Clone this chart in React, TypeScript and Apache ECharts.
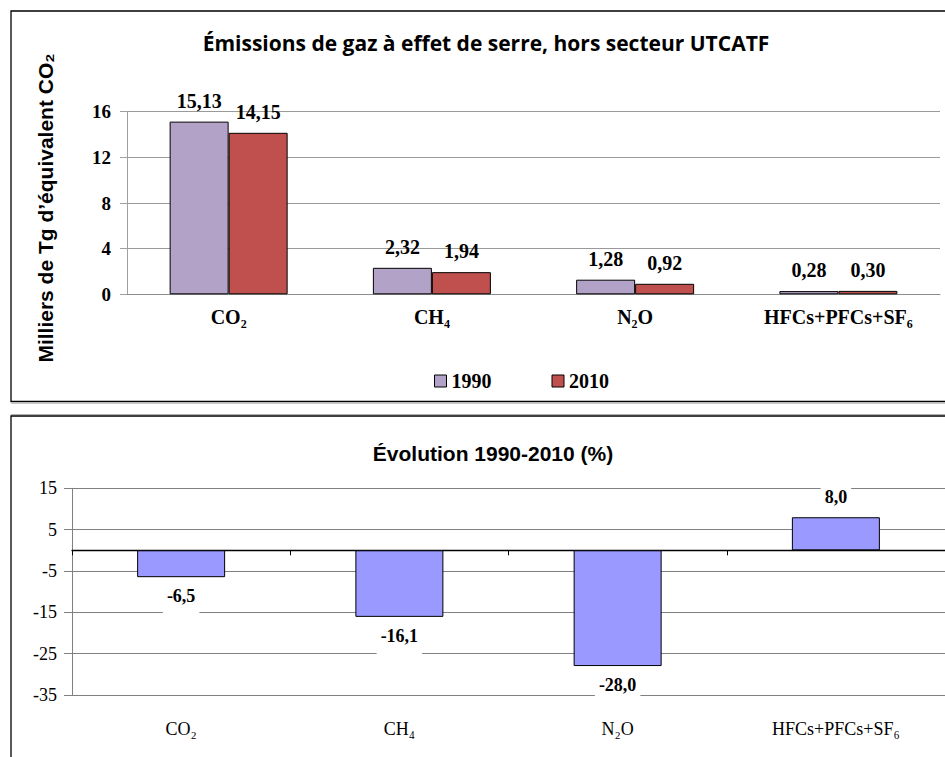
import React, { useEffect, useRef } from 'react';
import * as echarts from 'echarts';

// ---- Data ----
const categories = ['CO₂', 'CH₄', 'N₂O', 'HFCs+PFCs+SF₆'];
const years = ['1990', '2010'];
const emissions1990 = [15.13, 2.32, 1.28, 0.28];
const emissions2010 = [14.15, 1.94, 0.92, 0.3];
const evolution = [-6.5, -16.1, -28.0, 8.0];

const titleTop = 'Émissions de gaz à effet de serre, hors secteur UTCATF';
const yNameTop = 'Milliers de Tg d’équivalent CO₂';
const titleBottom = 'Évolution 1990-2010 (%)';

const fmt = (v: number, d: number) => v.toFixed(d).replace('.', ',');

export default function App() {
  const ref = useRef<HTMLDivElement>(null);

  useEffect(() => {
    const chart = echarts.init(ref.current!, null, { renderer: 'svg' });
    const serif = '"Liberation Serif", "Times New Roman", serif';
    const sans = '"Liberation Sans", Arial, sans-serif';

    const barLabelTop = {
      show: true,
      position: 'top',
      distance: 11,
      color: '#000',
      fontFamily: serif,
      fontWeight: 'bold',
      fontSize: 20,
      formatter: (p: any) => fmt(p.value, 2),
    };

    const option: any = {
      animation: false,
      backgroundColor: '#ffffff',
      grid: [
        { left: 127, right: 5, top: 111.7, bottom: 757 - 294.3, containLabel: false },
        { left: 72, right: 0, top: 488.3, bottom: 757 - 695, containLabel: false },
      ],
      legend: {
        data: years,
        left: 429,
        top: 366,
        itemWidth: 12,
        itemHeight: 12,
        itemGap: 60,
        icon: 'rect',
        itemStyle: { borderColor: '#000', borderWidth: 1 },
        textStyle: { color: '#000', fontFamily: serif, fontWeight: 'bold', fontSize: 20 },
      },
      xAxis: [
        {
          gridIndex: 0,
          type: 'category',
          data: categories,
          axisLine: { show: true, lineStyle: { color: '#8c8c8c', width: 1 } },
          axisTick: { show: false },
          axisLabel: { margin: 13, color: '#000', fontFamily: serif, fontWeight: 'bold', fontSize: 20 },
        },
        {
          gridIndex: 1,
          type: 'category',
          data: categories,
          position: 'bottom',
          axisLine: { show: true, onZero: true, lineStyle: { color: '#000', width: 1.3 } },
          axisTick: { show: true, length: 5, lineStyle: { color: '#000' } },
          axisLabel: { show: false },
        },
        {
          gridIndex: 1,
          type: 'category',
          data: categories,
          position: 'bottom',
          axisLine: { show: false, onZero: false },
          axisTick: { show: false },
          axisLabel: { margin: 25, color: '#000', fontFamily: serif, fontSize: 18 },
        },
      ],
      yAxis: [
        {
          gridIndex: 0,
          type: 'value',
          min: 0,
          max: 16,
          interval: 4,
          axisLine: { show: true, lineStyle: { color: '#a0a0a0' } },
          axisTick: { show: true, length: 7, lineStyle: { color: '#a0a0a0' } },
          splitLine: { show: true, lineStyle: { color: '#9a9a9a', width: 1 } },
          axisLabel: { margin: 16, color: '#000', fontFamily: serif, fontWeight: 'bold', fontSize: 19 },
        },
        {
          gridIndex: 1,
          type: 'value',
          min: -35,
          max: 15,
          interval: 10,
          axisLine: { show: true, lineStyle: { color: '#808080' } },
          axisTick: { show: true, length: 8, lineStyle: { color: '#808080' } },
          splitLine: { show: true, lineStyle: { color: '#808080', width: 1 } },
          axisLabel: { margin: 15, color: '#000', fontFamily: serif, fontSize: 18 },
        },
      ],
      series: [
        {
          name: years[0],
          type: 'bar',
          xAxisIndex: 0,
          yAxisIndex: 0,
          data: emissions1990,
          barWidth: 59,
          barGap: '0%',
          itemStyle: { color: '#B3A2C7', borderColor: '#000', borderWidth: 1 },
          label: barLabelTop,
        },
        {
          name: years[1],
          type: 'bar',
          xAxisIndex: 0,
          yAxisIndex: 0,
          data: emissions2010,
          barWidth: 59,
          barGap: '0%',
          itemStyle: { color: '#C0504D', borderColor: '#000', borderWidth: 1 },
          label: barLabelTop,
        },
        {
          name: 'Évolution',
          type: 'bar',
          xAxisIndex: 1,
          yAxisIndex: 1,
          barWidth: 88,
          data: evolution.map((v) => ({
            value: v,
            label:
              v < 0
                ? { position: 'bottom', distance: 8, padding: [2, 4, 12, 4] }
                : { position: 'top', distance: 9, padding: [4, 4, 2, 4] },
          })),
          itemStyle: { color: '#9999FF', borderColor: '#000', borderWidth: 1 },
          label: {
            show: true,
            color: '#000',
            fontFamily: serif,
            fontWeight: 'bold',
            fontSize: 18,
            backgroundColor: '#fff',
            formatter: (p: any) => fmt(p.value, 1),
          },
        },
      ],
      graphic: [
        {
          type: 'rect',
          shape: { x: 11, y: 11, width: 940, height: 390.5 },
          style: { fill: 'none', stroke: '#000', lineWidth: 1.3 },
          silent: true,
        },
        {
          type: 'line',
          shape: { x1: 11, y1: 403.2, x2: 945, y2: 403.2 },
          style: { stroke: '#b0b0b0', lineWidth: 1 },
          silent: true,
        },
        {
          type: 'line',
          shape: { x1: 11, y1: 414.5, x2: 945, y2: 414.5 },
          style: { stroke: '#b0b0b0', lineWidth: 1 },
          silent: true,
        },
        {
          type: 'rect',
          shape: { x: 11, y: 416, width: 940, height: 400 },
          style: { fill: 'none', stroke: '#000', lineWidth: 1.3 },
          silent: true,
        },
        {
          type: 'text',
          x: 486,
          y: 43,
          style: {
            text: titleTop,
            fill: '#000',
            fontFamily: '"Open Sans", Lato, sans-serif',
            fontWeight: 'bold',
            fontSize: 21,
            align: 'center',
            verticalAlign: 'middle',
          },
        },
        {
          type: 'text',
          x: 45,
          y: 208,
          rotation: Math.PI / 2,
          style: {
            text: yNameTop,
            fill: '#000',
            fontFamily: sans,
            fontWeight: 'bold',
            fontSize: 21,
            align: 'center',
            verticalAlign: 'middle',
          },
        },
        {
          type: 'text',
          x: 493,
          y: 453,
          style: {
            text: titleBottom,
            fill: '#000',
            fontFamily: sans,
            fontWeight: 'bold',
            fontSize: 21,
            align: 'center',
            verticalAlign: 'middle',
          },
        },
      ],
    };

    chart.setOption(option);
    return () => chart.dispose();
  }, []);

  return (
    <div
      ref={ref}
      style={{ position: 'absolute', left: 0, top: 0, width: 945, height: 757, background: '#fff' }}
    />
  );
}
